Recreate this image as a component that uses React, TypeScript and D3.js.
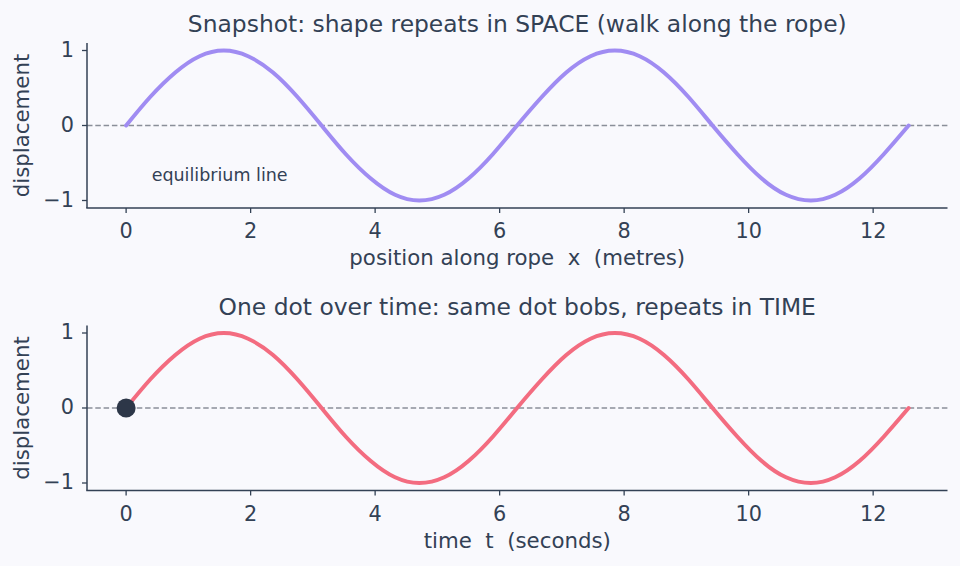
import React, { useEffect } from "react";
import * as d3 from "d3";

// Sample positions (metres / seconds) across two full cycles
const samplePositions = [
  0, 0.39, 0.79, 1.18, 1.57, 1.96, 2.36, 2.75, 3.14, 3.53, 3.93, 4.32, 4.71, 5.11, 5.5, 5.89,
  6.28, 6.68, 7.07, 7.46, 7.85, 8.25, 8.64, 9.03, 9.42, 9.82, 10.21, 10.6, 11.0, 11.39, 11.78,
  12.17, 12.57,
];

// Rope displacement along x at one instant
const ropeDisplacement = [
  0, 0.383, 0.707, 0.924, 1, 0.924, 0.707, 0.383, 0, -0.383, -0.707, -0.924, -1, -0.924, -0.707,
  -0.383, 0, 0.383, 0.707, 0.924, 1, 0.924, 0.707, 0.383, 0, -0.383, -0.707, -0.924, -1, -0.924,
  -0.707, -0.383, 0,
];

// Displacement of a single dot over time
const dotDisplacement = [
  0, 0.383, 0.707, 0.924, 1, 0.924, 0.707, 0.383, 0, -0.383, -0.707, -0.924, -1, -0.924, -0.707,
  -0.383, 0, 0.383, 0.707, 0.924, 1, 0.924, 0.707, 0.383, 0, -0.383, -0.707, -0.924, -1, -0.924,
  -0.707, -0.383, 0,
];

const xTicks = [0, 2, 4, 6, 8, 10, 12];
const yTicks = [-1, 0, 1];
const titles = [
  "Snapshot: shape repeats in SPACE (walk along the rope)",
  "One dot over time: same dot bobs, repeats in TIME",
];
const xLabels = ["position along rope  x  (metres)", "time  t  (seconds)"];
const yLabel = "displacement";
const markedDot = { t: 0, y: 0 };

const W = 960;
const H = 566;
const TEXT = "#334155";
const FONT = "DejaVu Sans, sans-serif";
const PRE = { whiteSpace: "pre" as const };
const LABEL_SIZE = 21.3;
const TICK_SIZE = 20.8;

const xMin = 0;
const xMax = 12.566;
const pad = (xMax - xMin) * 0.05;
const x = d3.scaleLinear().domain([xMin - pad, xMax + pad]).range([87, 947.5]);

type PanelProps = {
  top: number;
  bottom: number;
  values: number[];
  color: string;
  title: string;
  xLabel: string;
  annotate?: boolean;
  dot?: boolean;
};

function Panel({ top, bottom, values, color, title, xLabel, annotate, dot }: PanelProps) {
  const y = d3.scaleLinear().domain([-1.1, 1.1]).range([bottom, top]);
  const line = d3
    .line<number>()
    .x((_, i) => x(samplePositions[i]))
    .y((d) => y(d))
    .curve(d3.curveNatural);
  const [x0, x1] = x.range();
  const midY = (top + bottom) / 2;
  return (
    <g>
      <text
        x={(x0 + x1) / 2}
        y={top - 11}
        textAnchor="middle"
        fontSize={23.4}
        fill={TEXT}
        fontFamily={FONT}
      >
        {title}
      </text>
      <line
        x1={x0}
        x2={x1}
        y1={y(0)}
        y2={y(0)}
        stroke="#8a8f99"
        strokeWidth={1.3}
        strokeDasharray="5.5,2.8"
      />
      <path
        d={line(values) ?? ""}
        fill="none"
        stroke={color}
        strokeWidth={4}
        strokeLinecap="round"
      />
      {dot && <circle cx={x(markedDot.t)} cy={y(markedDot.y)} r={9.5} fill="#2d3748" />}
      {annotate && (
        <text
          x={x(0.41)}
          y={y(-0.67)}
          dominantBaseline="middle"
          fontSize={17.5}
          fill={TEXT}
          fontFamily={FONT}
        >
          equilibrium line
        </text>
      )}
      {/* spines */}
      <line x1={x0} x2={x0} y1={top} y2={bottom} stroke={TEXT} strokeWidth={1.5} />
      <line x1={x0 - 0.75} x2={x1} y1={bottom} y2={bottom} stroke={TEXT} strokeWidth={1.5} />
      {xTicks.map((t) => (
        <g key={`x${t}`}>
          <line x1={x(t)} x2={x(t)} y1={bottom} y2={bottom + 5} stroke={TEXT} strokeWidth={1.3} />
          <text
            x={x(t)}
            y={bottom + 24}
            textAnchor="middle"
            dominantBaseline="middle"
            fontSize={TICK_SIZE}
            fill={TEXT}
            fontFamily={FONT}
          >
            {t}
          </text>
        </g>
      ))}
      {yTicks.map((t) => (
        <g key={`y${t}`}>
          <line x1={x0 - 5} x2={x0} y1={y(t)} y2={y(t)} stroke={TEXT} strokeWidth={1.3} />
          <text
            x={x0 - 13}
            y={y(t)}
            textAnchor="end"
            dominantBaseline="middle"
            fontSize={TICK_SIZE}
            fill={TEXT}
            fontFamily={FONT}
          >
            {t < 0 ? `\u2212${Math.abs(t)}` : t}
          </text>
        </g>
      ))}
      <text
        x={(x0 + x1) / 2}
        y={bottom + 51}
        textAnchor="middle"
        dominantBaseline="middle"
        fontSize={LABEL_SIZE}
        fill={TEXT}
        fontFamily={FONT}
        style={PRE}
        xmlSpace="preserve"
      >
        {xLabel}
      </text>
      <text
        transform={`translate(23,${midY}) rotate(-90)`}
        textAnchor="middle"
        dominantBaseline="middle"
        fontSize={LABEL_SIZE}
        fill={TEXT}
        fontFamily={FONT}
      >
        {yLabel}
      </text>
    </g>
  );
}

export default function App() {
  useEffect(() => {
    document.body.style.margin = "0";
  }, []);
  return (
    <svg width={W} height={H} style={{ display: "block" }}>
      <rect width={W} height={H} fill="#f9f9fd" />
      <Panel
        top={43}
        bottom={208}
        values={ropeDisplacement}
        color="#a08cf2"
        title={titles[0]}
        xLabel={xLabels[0]}
        annotate
      />
      <Panel
        top={325.5}
        bottom={490.5}
        values={dotDisplacement}
        color="#f36c80"
        title={titles[1]}
        xLabel={xLabels[1]}
        dot
      />
    </svg>
  );
}
